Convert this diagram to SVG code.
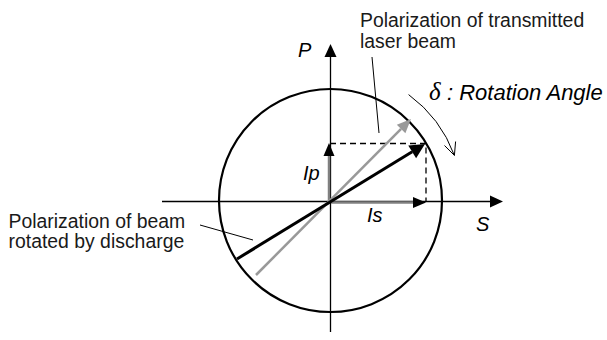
<svg xmlns="http://www.w3.org/2000/svg" width="607" height="340" viewBox="0 0 607 340">
<style>
  .lbl{font-family:"Liberation Sans",Arial,sans-serif;font-size:19.4px;fill:#1a1a1a}
  .ax{font-family:"Liberation Sans",Arial,sans-serif;font-size:20px;font-style:italic;fill:#000}
  .rot{font-family:"Liberation Sans",Arial,sans-serif;font-size:22px;font-style:italic;fill:#000}
  .thin{stroke:#000;stroke-width:1.3;fill:none}
  .lead{stroke:#000;stroke-width:1;fill:none}
</style>
<defs>
  <marker id="ahAxis" markerUnits="userSpaceOnUse" viewBox="0 -7 13 14" refX="0" refY="0" markerWidth="13" markerHeight="14" orient="auto" overflow="visible">
    <path d="M0,-6 L13,0 L0,6 Z" fill="#000"/>
  </marker>
  <marker id="ahComp" markerUnits="userSpaceOnUse" viewBox="0 -6 13 12" refX="0" refY="0" markerWidth="13" markerHeight="12" orient="auto" overflow="visible">
    <path d="M0,-5.5 L13,0 L0,5.5 Z" fill="#000"/>
  </marker>
  <marker id="ahBig" markerUnits="userSpaceOnUse" viewBox="0 -8 15 16" refX="0" refY="0" markerWidth="15" markerHeight="16" orient="auto" overflow="visible">
    <path d="M0,-7.5 L15,0 L0,7.5 Z" fill="#000"/>
  </marker>
  <marker id="ahGray" markerUnits="userSpaceOnUse" viewBox="0 -7 14 14" refX="0" refY="0" markerWidth="14" markerHeight="14" orient="auto" overflow="visible">
    <path d="M0,-6 L14,0 L0,6 Z" fill="#999"/>
  </marker>
</defs>

<g id="circle">
  <circle cx="330.5" cy="200.5" r="111.5" fill="none" stroke="#000" stroke-width="2.2"/>
</g>

<g id="connectors">
  <line id="p-axis" class="thin" x1="330.5" y1="332" x2="330.5" y2="57" marker-end="url(#ahAxis)"/>
  <line id="s-axis" class="thin" x1="162" y1="201.5" x2="490" y2="201.5" marker-end="url(#ahAxis)"/>
  <line id="ip-arrow" x1="329" y1="201" x2="329" y2="156" stroke="#808080" stroke-width="2.5" marker-end="url(#ahComp)"/>
  <line id="is-arrow" x1="331" y1="202.5" x2="413" y2="202.5" stroke="#808080" stroke-width="2.5" marker-end="url(#ahComp)"/>
  <polyline points="330,143.5 426,143.5 426,201" fill="none" stroke="#000" stroke-width="1.3" stroke-dasharray="6,4"/>
  <line id="gray-arrow" x1="256" y1="275" x2="401.1" y2="128.9" stroke="#999" stroke-width="2.5" marker-end="url(#ahGray)"/>
  <line id="black-arrow" x1="237" y1="259" x2="412.2" y2="151.8" stroke="#000" stroke-width="3" marker-end="url(#ahBig)"/>
  <path d="M408.6,94.6 A132,132 0 0 1 454.4,155.4" class="lead"/>
  <polyline points="455.6,141.5 454.4,155.4 444.5,145.5" class="lead"/>
  <line class="lead" x1="372" y1="57" x2="379" y2="133"/>
  <line class="lead" x1="200" y1="225" x2="253" y2="240"/>
</g>

<g id="label-transmitted">
  <text class="lbl" x="360" y="27">Polarization of transmitted</text>
  <text class="lbl" x="360" y="48">laser beam</text>
</g>
<g id="label-rotated">
  <text class="lbl" x="8.5" y="228">Polarization of beam</text>
  <text class="lbl" x="8.5" y="248">rotated by discharge</text>
</g>
<g id="label-rotation-angle">
  <text class="rot" x="429" y="100"><tspan font-family="'Liberation Serif','Times New Roman',serif" font-size="25px">δ</tspan><tspan x="447">: Rotation Angle</tspan></text>
</g>
<g id="label-P"><text class="ax" x="298" y="57">P</text></g>
<g id="label-S"><text class="ax" x="476" y="231">S</text></g>
<g id="label-Ip"><text class="ax" x="303" y="180">Ip</text></g>
<g id="label-Is"><text class="ax" x="367" y="221.5">Is</text></g>
</svg>
